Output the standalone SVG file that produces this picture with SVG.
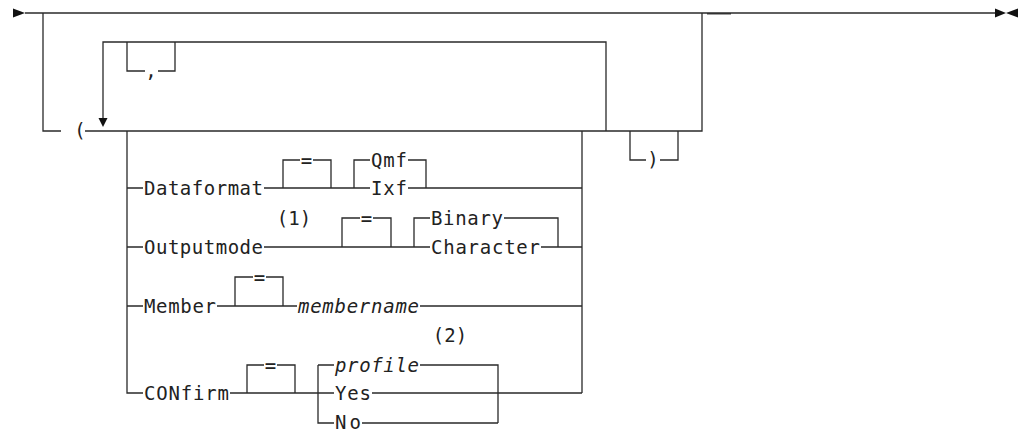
<svg xmlns="http://www.w3.org/2000/svg" width="1024" height="430" viewBox="0 0 1024 430">
<style>
.ln{fill:none;stroke:#2a2a2a;stroke-width:1.3}
.t{font-family:"DejaVu Sans Mono","Liberation Mono",monospace;font-size:19px;fill:#222}
.i{font-style:italic}
.m{text-anchor:middle}
.mk{fill:#111}
</style>
<rect width="1024" height="430" fill="#fff"/>
<g id="connectors">
<path class="ln" d="M25 13 H995"/>
<path class="ln" d="M707 13.8 H731"/>
<path class="ln" d="M43 13 V131 H61 M85 131 H702 V13"/>
<path class="ln" d="M103 118 V42 H606 V131"/>
<path class="ln" d="M127 42 V71 H145 M158 71 H175 V42"/>
<path class="ln" d="M630 131 V160 H646 M660 160 H678 V131"/>
<path class="ln" d="M127 131 V393 H143 M582 131 V393"/>
<path class="ln" d="M127 188 H143 M264 188 H370 M408 188 H582 M283 188 V160 H300 M313 160 H331 V188 M354 188 V160 H370 M408 160 H426 V188"/>
<path class="ln" d="M127 247 H143 M264 247 H430 M541 247 H582 M342 247 V218 H360 M373 218 H391 V247 M414 247 V218 H430 M504 218 H558 V247"/>
<path class="ln" d="M127 306 H143 M217 306 H297 M420 306 H582 M235 306 V277 H253 M266 277 H283 V306"/>
<path class="ln" d="M230 393 H334 M372 393 H582 M247 393 V365 H264 M277 365 H295 V393 M318 365 V423 H334 M318 365 H334 M420 365 H498 V423 M362 423 H498"/>
<polygon class="mk" points="13,8.5 25,13 13,17.5"/>
<polygon class="mk" points="995,8.5 1006,13 995,17.5"/>
<polygon class="mk" points="1018,8.5 1006,13 1018,17.5"/>
<polygon class="mk" points="98.5,118 107.5,118 103,127"/>
</g>
<g id="node-open"><text class="t m" x="80" y="137">(</text></g>
<g id="node-comma"><text class="t m" x="151" y="77">,</text></g>
<g id="node-close"><text class="t m" x="653" y="166">)</text></g>
<g id="node-dataformat">
<text class="t" x="144" y="194.5" textLength="119" lengthAdjust="spacing">Dataformat</text>
<text class="t m" x="306.5" y="166.5">=</text>
<text class="t" x="371" y="166.5" textLength="36" lengthAdjust="spacing">Qmf</text>
<text class="t" x="371" y="194.5" textLength="36" lengthAdjust="spacing">Ixf</text>
</g>
<g id="node-outputmode">
<text class="t" x="144" y="253.5" textLength="119" lengthAdjust="spacing">Outputmode</text>
<text class="t m" x="294" y="225">(1)</text>
<text class="t m" x="366.5" y="224.5">=</text>
<text class="t" x="431" y="224.5" textLength="72" lengthAdjust="spacing">Binary</text>
<text class="t" x="431" y="253.5" textLength="109" lengthAdjust="spacing">Character</text>
</g>
<g id="node-member">
<text class="t" x="144" y="312.5" textLength="72" lengthAdjust="spacing">Member</text>
<text class="t m" x="259.5" y="283.5">=</text>
<text class="t i" x="298" y="312.5" textLength="121" lengthAdjust="spacing">membername</text>
</g>
<g id="node-confirm">
<text class="t" x="144" y="399.5" textLength="85" lengthAdjust="spacing">CONfirm</text>
<text class="t m" x="270.5" y="371.5">=</text>
<text class="t m" x="450" y="342">(2)</text>
<text class="t i" x="335" y="371.5" textLength="84" lengthAdjust="spacing">profile</text>
<text class="t" x="335" y="399.5" textLength="36" lengthAdjust="spacing">Yes</text>
<text class="t" x="335" y="428.5" textLength="26" lengthAdjust="spacing">No</text>
</g>
</svg>
